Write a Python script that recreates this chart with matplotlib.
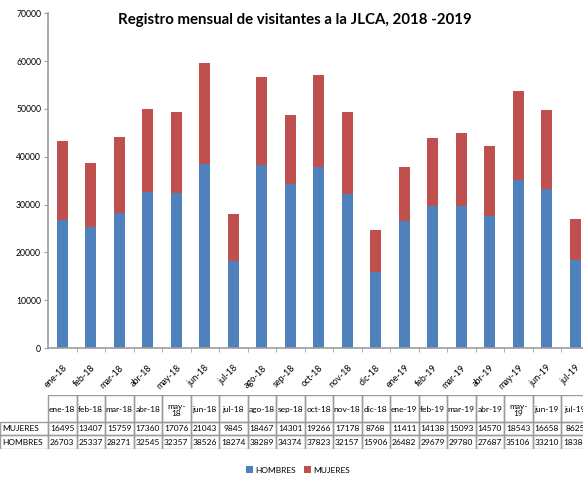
import matplotlib.pyplot as plt
from matplotlib.patches import Rectangle

# data
months = ["ene-18", "feb-18", "mar-18", "abr-18", "may-18", "jun-18", "jul-18",
          "ago-18", "sep-18", "oct-18", "nov-18", "dic-18", "ene-19", "feb-19",
          "mar-19", "abr-19", "may-19", "jun-19", "jul-19"]
mujeres = [16495, 13407, 15759, 17360, 17076, 21043, 9845, 18467, 14301, 19266,
           17178, 8768, 11411, 14138, 15093, 14570, 18543, 16658, 8625]
hombres = [26703, 25337, 28271, 32545, 32357, 38526, 18274, 38289, 34374, 37823,
           32157, 15906, 26482, 29679, 29780, 27687, 35106, 33210, 18381]

blue = "#4F81BD"
red = "#C0504D"
edge = "#9c9c9c"

plt.rcParams['font.family'] = ['Lato', 'DejaVu Sans']

W, H = 583, 482
fig = plt.figure(figsize=(W / 100, H / 100), dpi=100)

# main axes, pixel layout of the reference (right edge runs past the canvas)
left, right, top, bottom = 48, 589.5, 13.3, 348
ax = fig.add_axes([left / W, 1 - bottom / H, (right - left) / W, (bottom - top) / H])

x = list(range(len(months)))
ax.bar(x, hombres, width=0.4, color=blue, label="HOMBRES")
ax.bar(x, mujeres, width=0.4, bottom=hombres, color=red, label="MUJERES")

ax.set_xlim(-0.5, len(months) - 0.5)
ax.set_ylim(0, 70000)
ax.set_yticks(range(0, 70001, 10000))
ax.tick_params(axis='y', labelsize=6.2, length=3, color=edge, pad=2)
for s in ["top", "right"]:
    ax.spines[s].set_visible(False)
for s in ["left", "bottom"]:
    ax.spines[s].set_color(edge)
    ax.spines[s].set_linewidth(1.2)

ax.set_xticks(x)
ax.set_xticklabels(months, rotation=45, ha='right', rotation_mode='anchor', fontsize=6.5)
ax.tick_params(axis='x', which='major', length=0, pad=11)
ax.set_xticks([i + 0.5 for i in x], minor=True)
ax.tick_params(axis='x', which='minor', length=3, color=edge)

fig.text(0.505, 1 - 20 / H, "Registro mensual de visitantes a la JLCA, 2018 -2019",
         ha='center', va='center', fontsize=10.8, weight='bold')

# data table under the chart
t_top, t_bot = 395, 449
tax = fig.add_axes([0, 1 - t_bot / H, right / W, (t_bot - t_top) / H])
tax.set_xlim(-0.5 - left / 28.5, len(months) - 0.5)
tax.set_ylim(t_bot, t_top)
tax.axis('off')

hdr_bot = 422
row_h = (t_bot - hdr_bot) / 2
x0 = -0.5 - left / 28.5
for i, m in enumerate(months):
    tax.add_patch(Rectangle((i - 0.5, t_top), 1, hdr_bot - t_top, fill=False, ec=edge, lw=1))
    lab = m.replace("-", "-\n") if m.startswith("may") else m
    tax.text(i, (t_top + hdr_bot) / 2 + 1.5, lab, ha='center', va='center', fontsize=6, linespacing=1.1)
rows = [("MUJERES", mujeres), ("HOMBRES", hombres)]
for r, (name, vals) in enumerate(rows):
    y = hdr_bot + r * row_h
    tax.add_patch(Rectangle((x0, y), -0.5 - x0, row_h, fill=False, ec=edge, lw=1))
    tax.text(x0 + 0.08, y + row_h / 2, name, ha='left', va='center', fontsize=6)
    for i, v in enumerate(vals):
        tax.add_patch(Rectangle((i - 0.5, y), 1, row_h, fill=False, ec=edge, lw=1))
        tax.text(i, y + row_h / 2, str(v), ha='center', va='center', fontsize=6)

fig.legend(handles=ax.get_legend_handles_labels()[0], loc='center',
           bbox_to_anchor=(298 / W, 1 - 470 / H), ncol=2, frameon=False, fontsize=6,
           handlelength=0.8, handleheight=0.8, handletextpad=0.3, columnspacing=1.0)

plt.savefig("out.png", dpi=100)
plt.close()
